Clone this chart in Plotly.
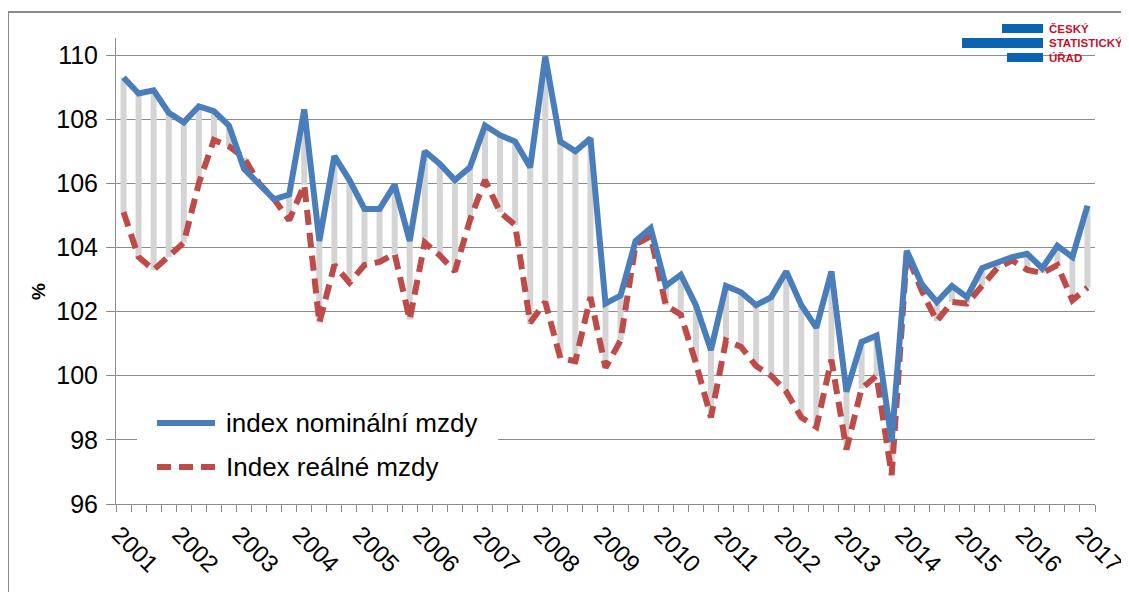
import plotly.graph_objects as go

# ---- data (quarterly, 2001 Q1 .. 2017 Q1) ----
years = [str(y) for y in range(2001, 2018)]
nominal = [109.3, 108.8, 108.9, 108.2, 107.9, 108.4, 108.25, 107.8,
           106.45, 106.0, 105.5, 105.65, 108.3, 104.2, 106.85, 106.1,
           105.2, 105.2, 105.95, 104.2, 107.0, 106.6, 106.1, 106.5,
           107.8, 107.5, 107.3, 106.5, 109.95, 107.3, 107.0, 107.4,
           102.25, 102.5, 104.2, 104.6, 102.8, 103.15, 102.2, 100.8,
           102.8, 102.6, 102.2, 102.45, 103.25, 102.2, 101.5, 103.25,
           99.5, 101.05, 101.25, 97.95, 103.9, 102.85, 102.3, 102.8,
           102.45, 103.35, 103.55, 103.7, 103.8, 103.35, 104.05, 103.7,
           105.3]
real = [105.1, 103.7, 103.3, 103.7, 104.15, 106.0, 107.35, 107.15,
        106.8, 106.0, 105.5, 104.85, 105.95, 101.65, 103.45, 102.9,
        103.45, 103.55, 103.8, 101.75, 104.15, 103.75, 103.25, 104.85,
        106.1, 105.1, 104.7, 101.65, 102.3, 100.55, 100.45, 102.45,
        100.25, 101.1, 104.1, 104.35, 102.2, 101.9, 100.4, 98.7,
        101.1, 100.9, 100.3, 100.0, 99.5, 98.7, 98.4, 100.5,
        97.7, 99.6, 100.0, 96.9, 103.8, 102.65, 101.7, 102.3,
        102.25, 102.8, 103.35, 103.6, 103.3, 103.2, 103.45, 102.35,
        102.75]
series_names = ["index nominální mzdy", "Index reálné mzdy"]

# the page body has an 8px margin; work in page pixels and convert
OFF = 8
W, H = 1129 - OFF, 592 - OFF
L, R, T, B = 116 - OFF, 34, 38 - OFF, 88
PW, PH = W - L - R, H - T - B


def px(xp, yp):
    """page pixel -> paper coordinates"""
    xf, yf = xp - OFF, yp - OFF
    return (xf - L) / PW, (H - B - yf) / PH


BLUE = "#4a7ebb"
RED = "#be4b48"
GREY = "#d4d4d4"
GRID = "#8c8c8c"

n = len(nominal)
xs = list(range(n))

# high-low lines
hx, hy = [], []
for i in xs:
    hx += [i, i, None]
    hy += [nominal[i], real[i], None]

fig = go.Figure()
fig.add_trace(go.Scatter(x=hx, y=hy, mode="lines",
                         line=dict(color=GREY, width=6),
                         hoverinfo="skip", showlegend=False))
fig.add_trace(go.Scatter(x=xs, y=real, mode="lines", name=series_names[1],
                         line=dict(color=RED, width=6, dash="15px,8px"),
                         showlegend=False))
fig.add_trace(go.Scatter(x=xs, y=nominal, mode="lines", name=series_names[0],
                         line=dict(color=BLUE, width=6),
                         showlegend=False))

shapes = []
annotations = []

# outer chart border (extends past the right and bottom edges)
x0, y0 = px(8, 12)
x1, y1 = px(1140, 600)
shapes.append(dict(type="rect", xref="paper", yref="paper", x0=x0, y0=y1, x1=x1, y1=y0,
                   line=dict(color="#8a8a8a", width=2), fillcolor="rgba(0,0,0,0)", layer="below"))

# manual legend
lx0, ly0 = px(137, 393)
lx1, ly1 = px(498, 501)
shapes.append(dict(type="rect", xref="paper", yref="paper", x0=lx0, y0=ly1, x1=lx1, y1=ly0,
                   line=dict(width=0), fillcolor="white", layer="above"))
for k, (yy, col, dash) in enumerate([(423, BLUE, "solid"), (467, RED, "14px,8px")]):
    a, b_ = px(157, yy)
    c, _ = px(215, yy)
    shapes.append(dict(type="line", xref="paper", yref="paper", x0=a, y0=b_, x1=c, y1=b_,
                       line=dict(color=col, width=6, dash=dash), layer="above"))
    tx, ty = px(224, yy)
    annotations.append(dict(xref="paper", yref="paper", x=tx, y=ty, text=series_names[k],
                            showarrow=False, xanchor="left", yanchor="middle",
                            font=dict(size=26, color="black")))

# % axis title
ax_, ay_ = px(38, 292)
annotations.append(dict(xref="paper", yref="paper", x=ax_, y=ay_, text="<b>%</b>", textangle=-90,
                        showarrow=False, xanchor="center", yanchor="middle",
                        font=dict(size=19, color="black")))

# CSU logo
for (bx0, by0, bx1, by1) in [(1002, 24, 1043, 33), (962, 38, 1043, 48), (1007, 53, 1043, 62)]:
    a, b_ = px(bx0, by0)
    c, d = px(bx1, by1)
    shapes.append(dict(type="rect", xref="paper", yref="paper", x0=a, y0=d, x1=c, y1=b_,
                       line=dict(width=0), fillcolor="#0b64b0", layer="above"))
for txt, yy in [("ČESKÝ", 28.5), ("STATISTICKÝ", 43), ("ÚŘAD", 57.5)]:
    tx, ty = px(1047, yy)
    annotations.append(dict(xref="paper", yref="paper", x=tx, y=ty, text="<b>" + txt + "</b>",
                            showarrow=False, xanchor="left", yanchor="middle",
                            font=dict(size=11.5, color="#c8102e")))

fig.update_layout(
    width=W, height=H,
    margin=dict(l=L, r=R, t=T, b=B, pad=0, autoexpand=False),
    paper_bgcolor="white", plot_bgcolor="white",
    font=dict(family="Liberation Sans, Arial, sans-serif", color="black"),
    shapes=shapes, annotations=annotations,
    showlegend=False,
)
fig.update_xaxes(
    range=[-0.5, n - 0.5], tickmode="array",
    tickvals=[i - 0.3 for i in range(0, n, 4)], ticktext=years,
    tickangle=45, ticks="", showgrid=False, zeroline=False,
    showline=True, linecolor=GRID, linewidth=1, automargin=False,
    tickfont=dict(size=24, color="black"),
    ticklabeloverflow="allow", ticklabelstandoff=6,
    minor=dict(tickmode="linear", tick0=-0.5, dtick=1, ticks="outside",
               ticklen=7, tickcolor=GRID, showgrid=False),
)
fig.update_yaxes(
    range=[96, 110.53], tickmode="linear", tick0=96, dtick=2,
    ticks="outside", ticklen=9, tickcolor=GRID, automargin=False,
    showgrid=True, gridcolor=GRID, gridwidth=1, zeroline=False,
    showline=True, linecolor=GRID, linewidth=1, ticklabelstandoff=3,
    tickfont=dict(size=25, color="black"),
)

fig.write_html("out.html")
